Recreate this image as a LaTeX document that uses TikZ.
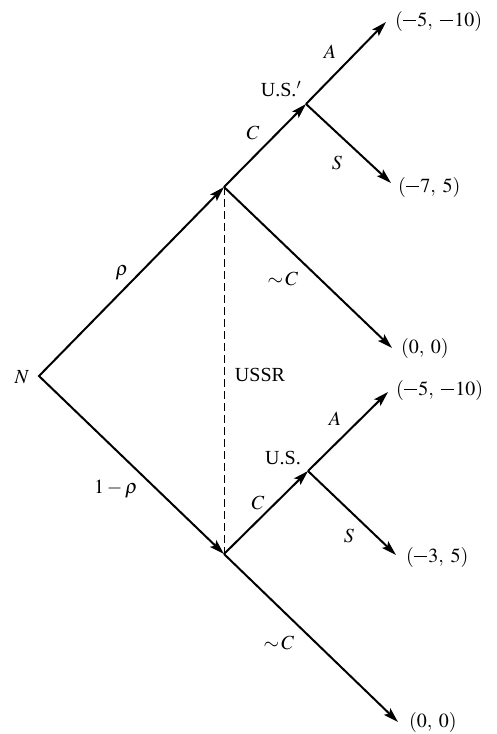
\documentclass[tikz,border=0pt]{standalone}
\usepackage{mathptmx}
\usepackage{fontspec}
\setmainfont{Liberation Serif}
\usetikzlibrary{arrows.meta,positioning}
% long minus, as the payoffs are printed
\newcommand{\mns}{\mathord{\rule[0.25em]{0.68em}{0.075em}}\mkern1mu}
\begin{document}
\begin{tikzpicture}[x=1pt, y=-1pt, line width=2pt,
  every node/.style={font=\fontsize{20}{24}\selectfont, inner sep=2pt},
  move/.style={-{Stealth[length=15pt,width=9pt,inset=3pt]}},
  info/.style={line width=1pt, dash pattern=on 8pt off 4pt}]
\useasboundingbox (0,0) rectangle (496,734);
% decision points: nature, the two USSR nodes, the two U.S. nodes
\coordinate (N)  at (39,376);
\coordinate (R1) at (224,187);
\coordinate (R2) at (224,554);
\coordinate (U1) at (306,104);
\coordinate (U2) at (308,471);
% ends of the moves
\coordinate (a1)  at (386,22);
\coordinate (s1)  at (391,183);
\coordinate (nc1) at (392,348);
\coordinate (a2)  at (388,392);
\coordinate (s2)  at (396,555);
\coordinate (nc2) at (398,722);
% moves
\draw[{Stealth[length=15pt,width=9pt,inset=3pt]}-{Stealth[length=15pt,width=9pt,inset=3pt]}]
  (R1) -- (N) -- (R2);
\draw[move] (R1) -- (U1);
\draw[move] (U1) -- (a1);
\draw[move] (U1) -- (s1);
\draw[move] (R1) -- (nc1);
\draw[move] (R2) -- (U2);
\draw[move] (U2) -- (a2);
\draw[move] (U2) -- (s2);
\draw[move] (R2) -- (nc2);
% USSR information set
\draw[info] (R1) -- (R2);
% payoffs
\node[right=6pt of a1, yshift=1pt]  (pa1)  {$(\mns5,\;\mns10)$};
\node[right=4pt of s1, yshift=-4pt] (ps1)  {$(\mns7,\;5)$};
\node[right=6pt of nc1]             (pnc1) {$(0,\;0)$};
\node[right=5pt of a2, yshift=2pt]  (pa2)  {$(\mns5,\;\mns10)$};
\node[right=7pt of s2, yshift=-2pt] (ps2)  {$(\mns3,\;5)$};
\node[right=8pt of nc2]             (pnc2) {$(0,\;0)$};
% labels
\node (lN)    at (22,377)  {$N$};
\node (lrho)  at (122,273) {$\rho$};
\node (lrho2) at (116,489) {$1-\rho$};
\node (lC1)   at (253,133) {$C$};
\node (lUS1)  at (281,89)  {U.S.$'$};
\node (lA1)   at (330,52)  {$A$};
\node (lS1)   at (337,163) {$S$};
\node (lnC1)  at (283,279) {$\sim\!C$};
\node (lUSSR) at (260,375) {USSR};
\node (lUS2)  at (283,458) {U.S.};
\node (lA2)   at (335,419) {$A$};
\node (lC2)   at (258,503) {$C$};
\node (lS2)   at (349,536) {$S$};
\node (lnC2)  at (279,643) {$\sim\!C$};
\end{tikzpicture}
\end{document}
